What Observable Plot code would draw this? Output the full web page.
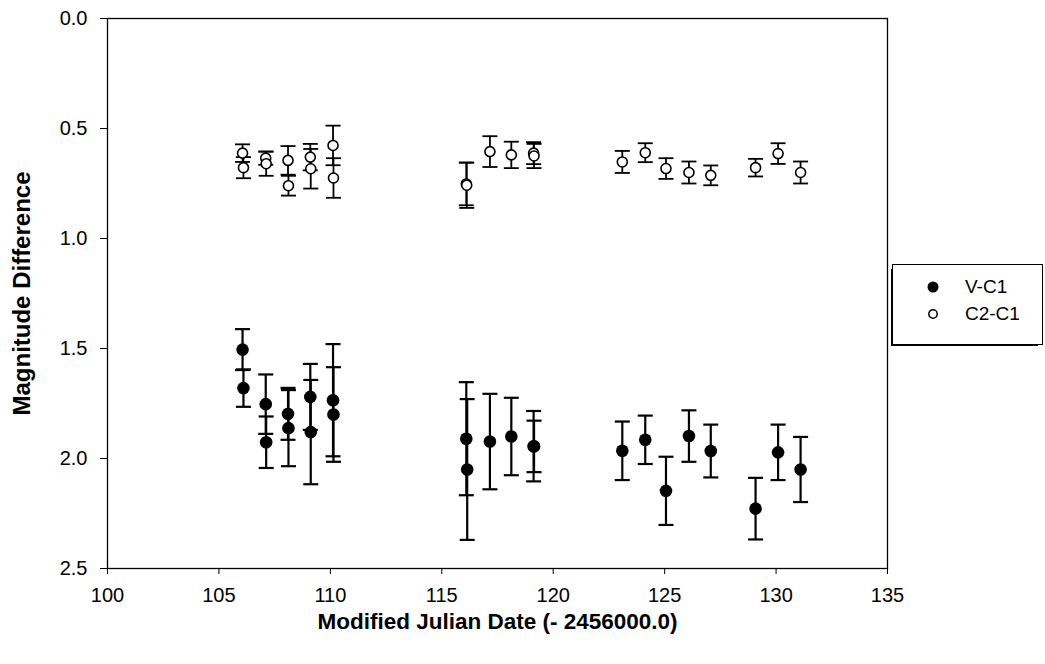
<!DOCTYPE html>
<html>
<head>
<meta charset="utf-8">
<script src="https://cdn.jsdelivr.net/npm/d3@7"></script>
<script src="https://cdn.jsdelivr.net/npm/@observablehq/plot@0.6"></script>
<style>
  html, body { margin: 0; padding: 0; background: #fff; }
  #wrap { position: relative; width: 1045px; height: 664px; font-family: "Liberation Sans", Arial, sans-serif; }
  #legend {
    position: absolute; left: 892px; top: 264px; width: 151px; height: 81px;
    border: 1px solid #000; box-shadow: -3px 3px 0 -2px #000; background: #fff; box-sizing: border-box;
  }
  .row { position: absolute; left: 0; display: flex; align-items: center; font-size: 19px; color: #000; }
  .row svg { margin-left: 32px; margin-right: 24px; }
</style>
</head>
<body>
<div id="wrap">
  <div id="chart"></div>
  <div id="legend">
    <div class="row" style="top:11px"><svg width="16" height="16"><circle cx="8" cy="8" r="5.5" fill="#000"/></svg><span>V-C1</span></div>
    <div class="row" style="top:38px"><svg width="16" height="16"><circle cx="8" cy="8" r="4.2" fill="#fff" stroke="#000" stroke-width="1.5"/></svg><span>C2-C1</span></div>
  </div>
</div>
<script>
// Observation dates (MJD - 2456000), magnitude differences and their errors
const vDates = [106.06, 106.1, 107.1, 107.12, 108.1, 108.12, 109.1, 109.12, 110.12, 110.14,
                116.1, 116.14, 117.16, 118.12, 119.12, 119.14, 123.1, 124.13, 125.06, 126.09,
                127.07, 129.08, 130.09, 131.1];
const vMag   = [1.505, 1.68, 1.753, 1.926, 1.797, 1.862, 1.72, 1.88, 1.735, 1.80,
                1.91, 2.05, 1.923, 1.90, 1.944, 1.945, 1.965, 1.915, 2.147, 1.898,
                1.966, 2.228, 1.972, 2.05];
const vErr   = [0.093, 0.085, 0.135, 0.117, 0.118, 0.173, 0.15, 0.237, 0.255, 0.215,
                0.257, 0.32, 0.217, 0.176, 0.16, 0.117, 0.133, 0.11, 0.155, 0.117,
                0.12, 0.14, 0.126, 0.148];

const cDates = [106.06, 106.1, 107.1, 107.12, 108.1, 108.12, 109.1, 109.12, 110.12, 110.14,
                116.1, 116.12, 117.16, 118.12, 119.12, 119.14, 123.1, 124.13, 125.06, 126.09,
                127.07, 129.08, 130.09, 131.1];
const cMag   = [0.612, 0.678, 0.635, 0.66, 0.645, 0.76, 0.63, 0.683, 0.577, 0.725,
                0.752, 0.758, 0.605, 0.62, 0.612, 0.625, 0.652, 0.61, 0.682, 0.70,
                0.713, 0.678, 0.614, 0.70];
const cErr   = [0.04, 0.048, 0.03, 0.055, 0.065, 0.045, 0.06, 0.09, 0.09, 0.09,
                0.097, 0.103, 0.07, 0.06, 0.05, 0.055, 0.05, 0.043, 0.047, 0.05,
                0.045, 0.04, 0.047, 0.05];

const xTicks = [100, 105, 110, 115, 120, 125, 130, 135];
const yTicks = [0, 0.5, 1.0, 1.5, 2.0, 2.5];
const xTitle = "Modified Julian Date (- 2456000.0)";
const yTitle = "Magnitude Difference";

const toRows = (dates, mags, errs) => dates.map((d, i) => ({date: d, mag: mags[i], err: errs[i]}));
const vRows = toRows(vDates, vMag, vErr);
const cRows = toRows(cDates, cMag, cErr);

// horizontal cap symbol for error bars; half-width equals the dot radius
const cap = {
  draw(context, size) {
    const w = Math.sqrt(size / Math.PI);
    context.moveTo(-w, 0);
    context.lineTo(w, 0);
  }
};

const bars = (rows, sw) => [
  Plot.ruleX(rows, {x: "date", y1: d => d.mag - d.err, y2: d => d.mag + d.err, stroke: "#000", strokeWidth: sw}),
  Plot.dot(rows, {x: "date", y: d => d.mag - d.err, symbol: cap, r: 7.5, stroke: "#000", strokeWidth: sw}),
  Plot.dot(rows, {x: "date", y: d => d.mag + d.err, symbol: cap, r: 7.5, stroke: "#000", strokeWidth: sw})
];

const chart = Plot.plot({
  width: 1045,
  height: 664,
  marginLeft: 107,
  marginRight: 158,
  marginTop: 18,
  marginBottom: 96,
  style: {fontFamily: "'Liberation Sans', Arial, sans-serif", fontSize: "20px", color: "#000", background: "#fff", overflow: "visible"},
  x: {domain: [100, 135], ticks: xTicks, tickSize: 6, tickPadding: 13, label: null},
  y: {domain: [0, 2.5], reverse: true, ticks: yTicks, tickFormat: d3.format(".1f"), tickSize: 7, tickPadding: 13, label: null},
  marks: [
    Plot.frame({stroke: "#000", strokeWidth: 1.3}),
    ...bars(cRows, 1.8),
    ...bars(vRows, 2.2),
    Plot.dot(cRows, {x: "date", y: "mag", r: 5, fill: "#fff", stroke: "#000", strokeWidth: 1.6}),
    Plot.dot(vRows, {x: "date", y: "mag", r: 6.3, fill: "#000", stroke: "none"}),
    Plot.text([yTitle], {frameAnchor: "left", dx: -85, rotate: -90, textAnchor: "middle", fontWeight: "bold", fontSize: 24}),
    Plot.text([xTitle], {frameAnchor: "bottom", dy: 60, textAnchor: "middle", fontWeight: "bold", fontSize: 22.5})
  ]
});
document.getElementById("chart").append(chart);
</script>
</body>
</html>
